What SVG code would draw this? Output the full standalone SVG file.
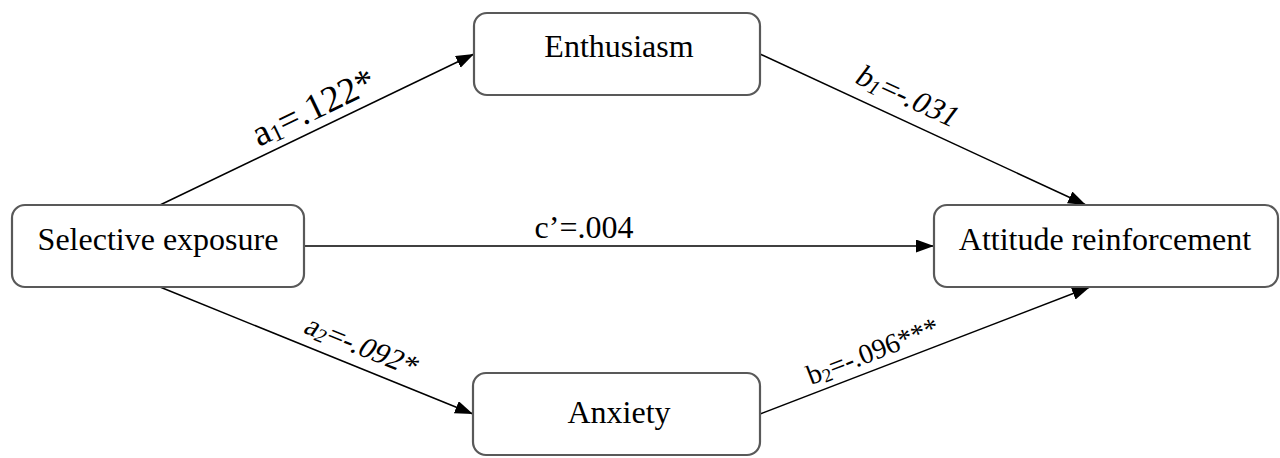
<svg xmlns="http://www.w3.org/2000/svg" width="1280" height="458" viewBox="0 0 1280 458">
<style>
.box{fill:#fff;stroke:#595959;stroke-width:2.2}
.lbl{font-family:"Liberation Serif","Times New Roman",serif;font-size:32px;fill:#000}
.el{font-family:"Liberation Serif","Times New Roman",serif;fill:#000}
.ln{stroke:#000;stroke-width:1.5;fill:none;marker-end:url(#ah)}
</style>
<defs>
<marker id="ah" markerUnits="userSpaceOnUse" markerWidth="20" markerHeight="14" refX="18" refY="6.5" orient="auto">
<path d="M0,0 L18,6.5 L0,13 Z" fill="#000"/>
</marker>
</defs>
<rect width="1280" height="458" fill="#fff"/>
<g id="connectors">
<line class="ln" x1="160" y1="205" x2="474" y2="54"/>
<line class="ln" x1="304" y1="246" x2="934" y2="246"/>
<line class="ln" x1="160" y1="287" x2="473" y2="414"/>
<line class="ln" x1="760" y1="54" x2="1086" y2="205"/>
<line class="ln" x1="760" y1="414" x2="1090" y2="287"/>
<text class="el" font-size="37" transform="translate(259,147) rotate(-25.7)">a<tspan font-size="24" dy="3">1</tspan><tspan dy="-3">=.122*</tspan></text>
<text class="el" font-size="31" transform="translate(853,82) rotate(24.8) skewX(-12)">b<tspan font-size="21" dy="3">1</tspan><tspan dy="-3">=-.031</tspan></text>
<text class="el" font-size="30" transform="translate(302,332) rotate(22.1) skewX(-12)">a<tspan font-size="20" dy="3">2</tspan><tspan dy="-3">=-.092*</tspan></text>
<text class="el" font-size="28" transform="translate(811,385) rotate(-21.2)">b<tspan font-size="19" dy="3">2</tspan><tspan dy="-3">=-.096***</tspan></text>
<text class="el" font-size="32" x="584" y="238" text-anchor="middle">c’=.004</text>
</g>
<g id="node-selective">
<rect class="box" x="12" y="205" width="292" height="82" rx="13"/>
<text class="lbl" x="158" y="250" text-anchor="middle">Selective exposure</text>
</g>
<g id="node-enthusiasm">
<rect class="box" x="474" y="13" width="286" height="82" rx="13"/>
<text class="lbl" x="619" y="57" text-anchor="middle">Enthusiasm</text>
</g>
<g id="node-anxiety">
<rect class="box" x="473" y="373" width="287" height="82" rx="13"/>
<text class="lbl" x="619" y="423" text-anchor="middle">Anxiety</text>
</g>
<g id="node-attitude">
<rect class="box" x="934" y="205" width="344" height="82" rx="13"/>
<text class="lbl" x="1105" y="250" text-anchor="middle">Attitude reinforcement</text>
</g>
</svg>
